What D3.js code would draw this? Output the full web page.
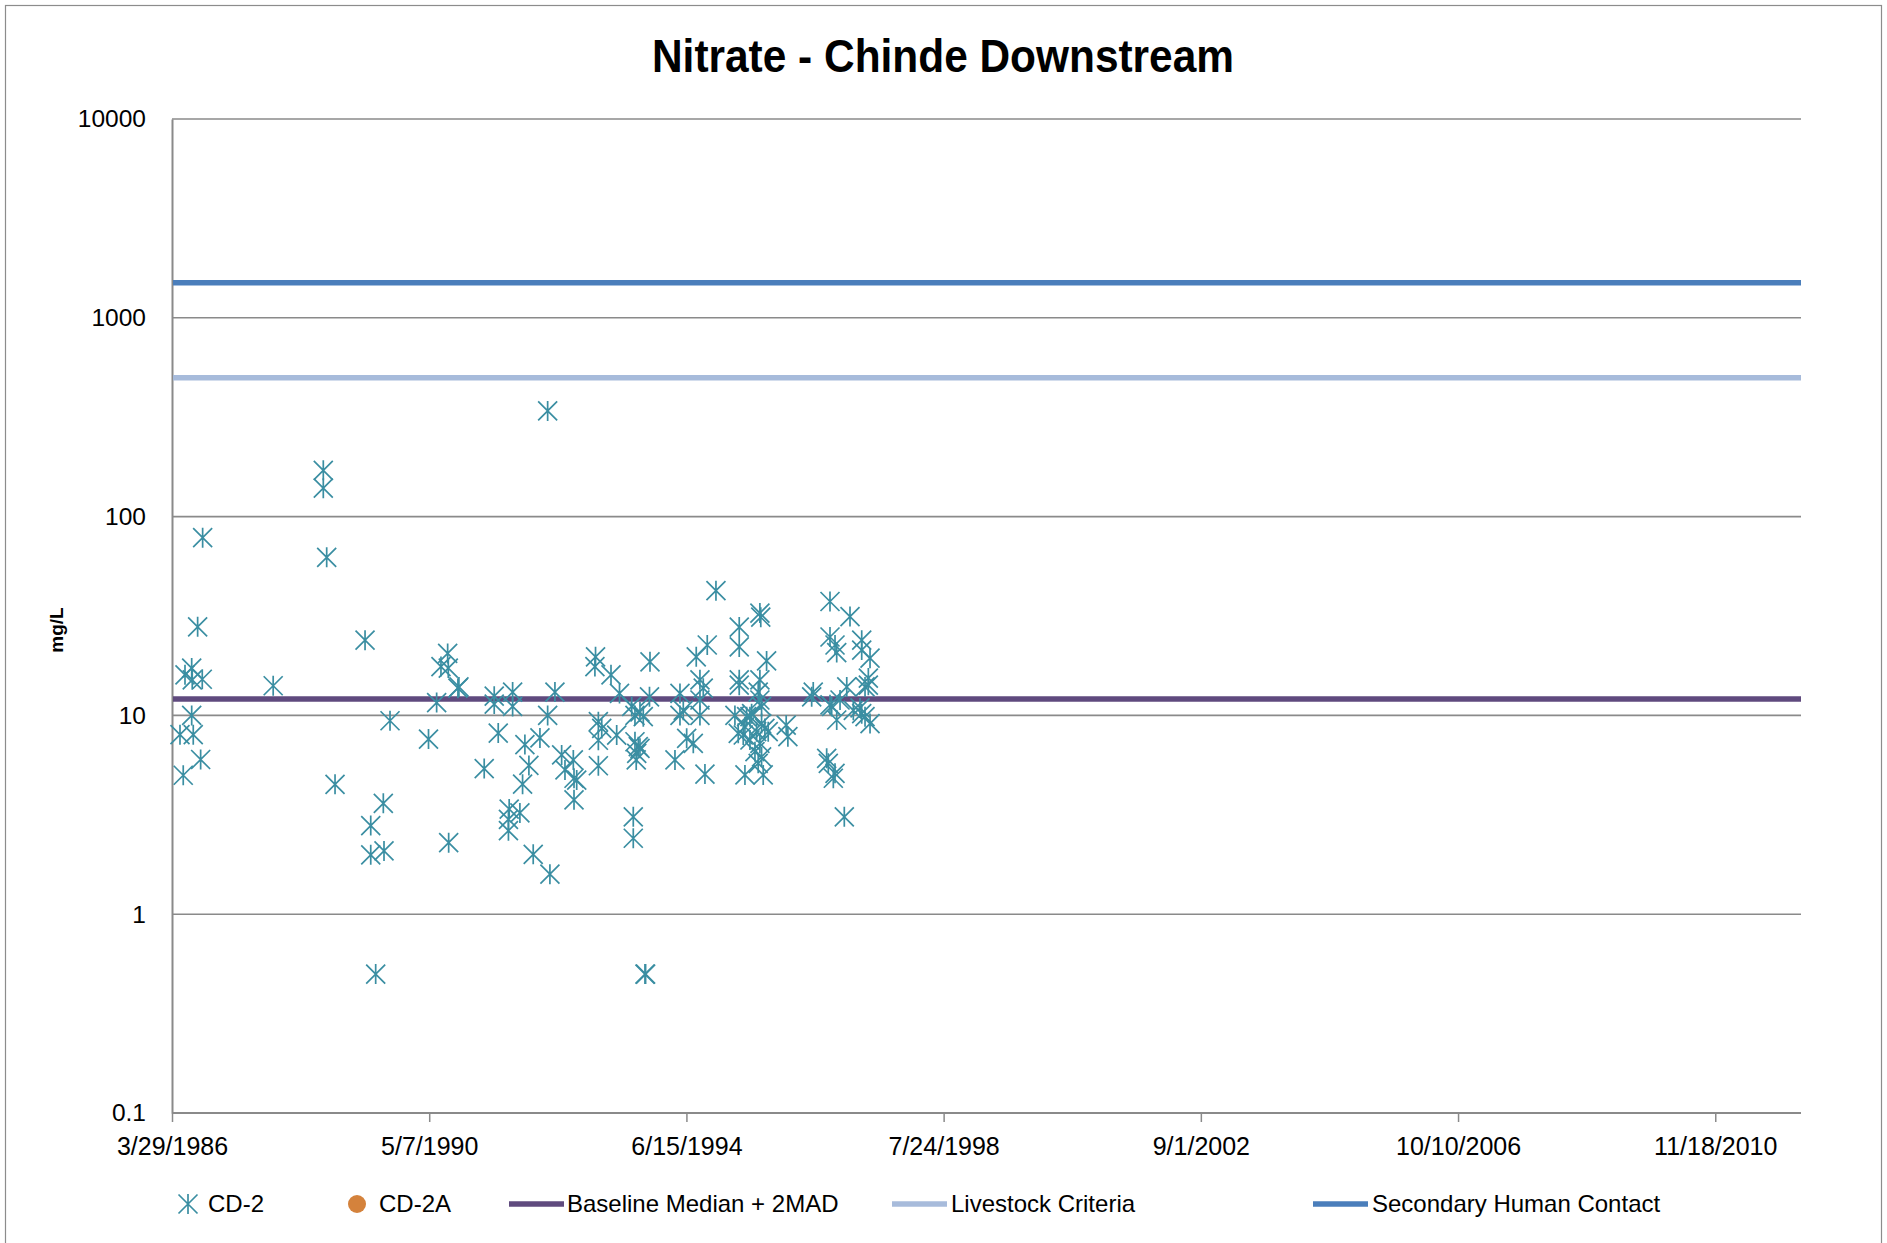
<!DOCTYPE html>
<html>
<head>
<meta charset="utf-8">
<script src="https://cdn.jsdelivr.net/npm/d3@7"></script>
<style>
  html, body { margin: 0; padding: 0; background: #fff; }
  svg { display: block; }
  text { font-family: "Liberation Sans", Arial, sans-serif; fill: #000; }
</style>
</head>
<body>
<script>
// ---------------- DATA ----------------
const chartTitle = "Nitrate - Chinde Downstream";
const yAxisTitle = "mg/L";
const xTickLabels = ["3/29/1986", "5/7/1990", "6/15/1994", "7/24/1998", "9/1/2002", "10/10/2006", "11/18/2010"];
const xDomainLabels = ["3/29/1986", "4/1/2012"];
const yTickValues = [0.1, 1, 10, 100, 1000, 10000];
const yTickLabels = ["0.1", "1", "10", "100", "1000", "10000"];

// CD-2 samples: [decimal year, mg/L]
const cd2Years = [
  1986.366, 1986.418, 1986.446, 1986.553, 1986.562, 1986.722, 1986.553, 1986.578, 1986.696, 1986.648, 1986.728,
  1987.855, 1988.654, 1988.654, 1988.708, 1988.841, 1989.320, 1989.411, 1989.411, 1989.623, 1989.612, 1989.490, 1989.719,
  1990.334, 1990.464, 1990.533, 1990.640, 1990.650, 1990.804, 1990.820, 1990.656,
  1991.224, 1991.384, 1991.384, 1991.448, 1991.678, 1991.678, 1991.874, 1991.938, 1991.837, 1991.623, 1991.794, 1991.611, 1991.611,
  1992.007, 1992.273, 1992.237, 1992.353, 1992.237, 1992.114, 1992.460, 1992.646, 1992.513, 1992.657, 1992.700, 1992.657,
  1993.000, 1992.990, 1993.247, 1993.383, 1993.045, 1993.099, 1993.045, 1993.338, 1993.045, 1993.870, 1993.862, 1993.578,
  1993.710, 1993.763, 1993.630, 1993.603, 1993.603, 1993.630, 1993.683, 1993.658, 1993.710, 1993.650, 1993.790, 1993.800,
  1994.269, 1994.349, 1994.349, 1994.402, 1994.456, 1994.562, 1994.609, 1994.785, 1994.668, 1994.721, 1994.668, 1994.668, 1994.748, 1994.924,
  1995.296, 1995.296, 1995.626, 1995.640, 1995.733, 1995.296, 1995.296, 1995.626, 1995.599, 1995.626, 1995.653, 1995.227,
  1995.387, 1995.280, 1995.467, 1995.414, 1995.494, 1995.653, 1995.706, 1995.574, 1995.360, 1995.467, 1995.626, 1995.759,
  1995.547, 1995.653, 1995.599, 1995.387, 1995.679,
  1996.046, 1996.073, 1996.477, 1996.452, 1996.744, 1997.063, 1996.744, 1996.824, 1996.851, 1997.250, 1997.250, 1997.383,
  1997.011, 1997.356, 1997.356, 1997.303, 1996.744, 1996.771, 1996.904, 1996.851, 1997.223, 1997.250, 1997.303, 1997.383,
  1997.116, 1996.691, 1996.717, 1996.824, 1996.797, 1996.972
];
const cd2Values = [
  8.0, 5.0, 16.0, 17.3, 15.1, 15.2, 10.0, 8.0, 6.0, 27.9, 78.3,
  14.1, 171, 139, 62.4, 4.5, 23.9, 2.79, 1.99, 2.08, 3.61, 0.5, 9.4,
  7.6, 11.6, 17.6, 20.5, 17.3, 13.7, 13.9, 2.29,
  5.4, 12.5, 11.4, 8.15, 13.1, 11.1, 7.13, 5.6, 4.51, 3.38, 3.23, 3.0, 2.63,
  2.0, 1.59, 340, 13.1, 10.0, 7.7, 6.33, 5.97, 5.32, 4.83, 4.73, 3.76,
  19.7, 17.6, 16.0, 12.9, 9.3, 8.6, 7.5, 7.96, 5.58, 18.6, 12.4, 11.1,
  10.4, 9.85, 10.0, 3.09, 2.41, 7.37, 6.96, 6.44, 6.83, 5.97, 0.5, 0.5,
  5.97, 12.9, 10.0, 10.6, 7.67, 7.24, 19.7, 22.6, 15.1, 13.7, 11.95, 10.0, 5.07, 42.4,
  27.8, 22.1, 32.7, 31.2, 18.8, 15.1, 14.2, 15.1, 13.1, 11.95, 11.1, 10.0,
  8.77, 8.13, 9.85, 9.85, 10.2, 9.1, 8.6, 8.28, 7.97, 7.52, 7.24, 8.28,
  6.57, 6.19, 5.74, 5.02, 5.02,
  8.94, 7.82, 13.1, 12.4, 37.4, 31.4, 24.8, 22.6, 20.7, 23.9, 21.3, 19.4,
  13.9, 15.4, 14.2, 13.9, 11.3, 11.1, 11.95, 9.48, 10.9, 10.2, 9.85, 9.1,
  10.6, 6.08, 5.74, 5.11, 4.83, 3.09
];
const cd2aYears = [];
const cd2aValues = [];

// Horizontal criteria lines
const refNames = ["Baseline Median + 2MAD", "Livestock Criteria", "Secondary Human Contact"];
const refValues = [12.1, 500, 1500];
const refColors = ["#5f4a7e", "#a7bbdb", "#4a7ebb"];

const legendNames = ["CD-2", "CD-2A", "Baseline Median + 2MAD", "Livestock Criteria", "Secondary Human Contact"];

// ---------------- DRAW ----------------
const W = 1887, H = 1243;
const plot = { left: 172, right: 1801, top: 119, bottom: 1113 };
const markerColor = "#3a8ea2";
const orange = "#d4823c";
const gridColor = "#8a8a8a";

const parse = d3.utcParse("%m/%d/%Y");
function yearToDate(y) {
  const Y = Math.floor(y);
  const start = Date.UTC(Y, 0, 1), end = Date.UTC(Y + 1, 0, 1);
  return new Date(start + (y - Y) * (end - start));
}

const svg = d3.select("body").append("svg").attr("width", W).attr("height", H);
svg.append("rect").attr("x", 0).attr("y", 0).attr("width", W).attr("height", H).attr("fill", "#fff");
svg.append("rect").attr("x", 5.5).attr("y", 5.5).attr("width", W - 11).attr("height", H + 20)
  .attr("fill", "none").attr("stroke", "#8c8c8c").attr("stroke-width", 1.2);

const x = d3.scaleUtc().domain(xDomainLabels.map(parse)).range([plot.left, plot.right]);
const y = d3.scaleLog().domain([0.1, 10000]).range([plot.bottom, plot.top]);

// Title
svg.append("text").attr("x", 943).attr("y", 72).attr("text-anchor", "middle")
  .attr("font-size", 46).attr("font-weight", "bold")
  .attr("textLength", 582).attr("lengthAdjust", "spacingAndGlyphs")
  .text(chartTitle);

// Gridlines
const grid = svg.append("g");
grid.selectAll("line").data(yTickValues).join("line")
  .attr("x1", plot.left).attr("x2", plot.right)
  .attr("y1", d => y(d)).attr("y2", d => y(d))
  .attr("stroke", gridColor).attr("stroke-width", 1.6);

// Y axis
const yAxis = d3.axisLeft(y).tickValues(yTickValues).tickSize(0).tickPadding(26)
  .tickFormat((d, i) => yTickLabels[i]);
const gy = svg.append("g").attr("transform", `translate(${plot.left},0)`).call(yAxis);
gy.select(".domain").attr("stroke", gridColor).attr("stroke-width", 2);
gy.selectAll("text").attr("font-size", 24.5).attr("font-family", "Liberation Sans, Arial, sans-serif").attr("fill", "#000");

// X axis
const xTicks = xTickLabels.map(parse);
const xAxis = d3.axisBottom(x).tickValues(xTicks).tickSize(9).tickPadding(15)
  .tickFormat((d, i) => xTickLabels[i]);
const gx = svg.append("g").attr("transform", `translate(0,${plot.bottom})`).call(xAxis);
gx.select(".domain").attr("stroke", gridColor).attr("stroke-width", 1.8).attr("d", `M${plot.left},0H${plot.right}`);
gx.selectAll(".tick line").attr("stroke", gridColor).attr("stroke-width", 1.5);
gx.selectAll("text").attr("font-size", 25).attr("font-family", "Liberation Sans, Arial, sans-serif").attr("fill", "#000");

// Y axis title
svg.append("text").attr("transform", "translate(63,630) rotate(-90)").attr("text-anchor", "middle")
  .attr("font-size", 19).attr("font-weight", "bold").text(yAxisTitle);

// Reference lines
svg.append("g").selectAll("line").data(refValues).join("line")
  .attr("x1", plot.left + 1).attr("x2", plot.right)
  .attr("y1", d => y(d)).attr("y2", d => y(d))
  .attr("stroke", (d, i) => refColors[i]).attr("stroke-width", 5.5);

// Star marker path
const s = 9.5;
const starPath = `M${-s},${-s}L${s},${s}M${-s},${s}L${s},${-s}M0,${-s - 0.5}L0,${s + 0.5}`;

const cd2 = cd2Years.map((yr, i) => ({ date: yearToDate(yr), v: cd2Values[i] }));
svg.append("g").selectAll("path").data(cd2).join("path")
  .attr("transform", d => `translate(${x(d.date)},${y(d.v)})`)
  .attr("d", starPath).attr("fill", "none").attr("stroke", markerColor).attr("stroke-width", 1.7);

const cd2a = cd2aYears.map((yr, i) => ({ date: yearToDate(yr), v: cd2aValues[i] }));
svg.append("g").selectAll("circle").data(cd2a).join("circle")
  .attr("cx", d => x(d.date)).attr("cy", d => y(d.v)).attr("r", 8).attr("fill", orange);

// Legend
const ly = 1204;
const leg = svg.append("g");
leg.append("path").attr("transform", `translate(188,${ly})`).attr("d", starPath)
  .attr("fill", "none").attr("stroke", markerColor).attr("stroke-width", 1.7);
leg.append("circle").attr("cx", 357).attr("cy", ly).attr("r", 9).attr("fill", orange);
const lineLegX = [509, 892, 1313];
lineLegX.forEach((lx, i) => {
  leg.append("line").attr("x1", lx).attr("x2", lx + 55).attr("y1", ly).attr("y2", ly)
    .attr("stroke", refColors[i]).attr("stroke-width", 5.5);
});
const legTextX = [208, 379, 567, 951, 1372];
legendNames.forEach((n, i) => {
  leg.append("text").attr("x", legTextX[i]).attr("y", ly).attr("dy", "0.35em")
    .attr("font-size", 24).text(n);
});
</script>
</body>
</html>
